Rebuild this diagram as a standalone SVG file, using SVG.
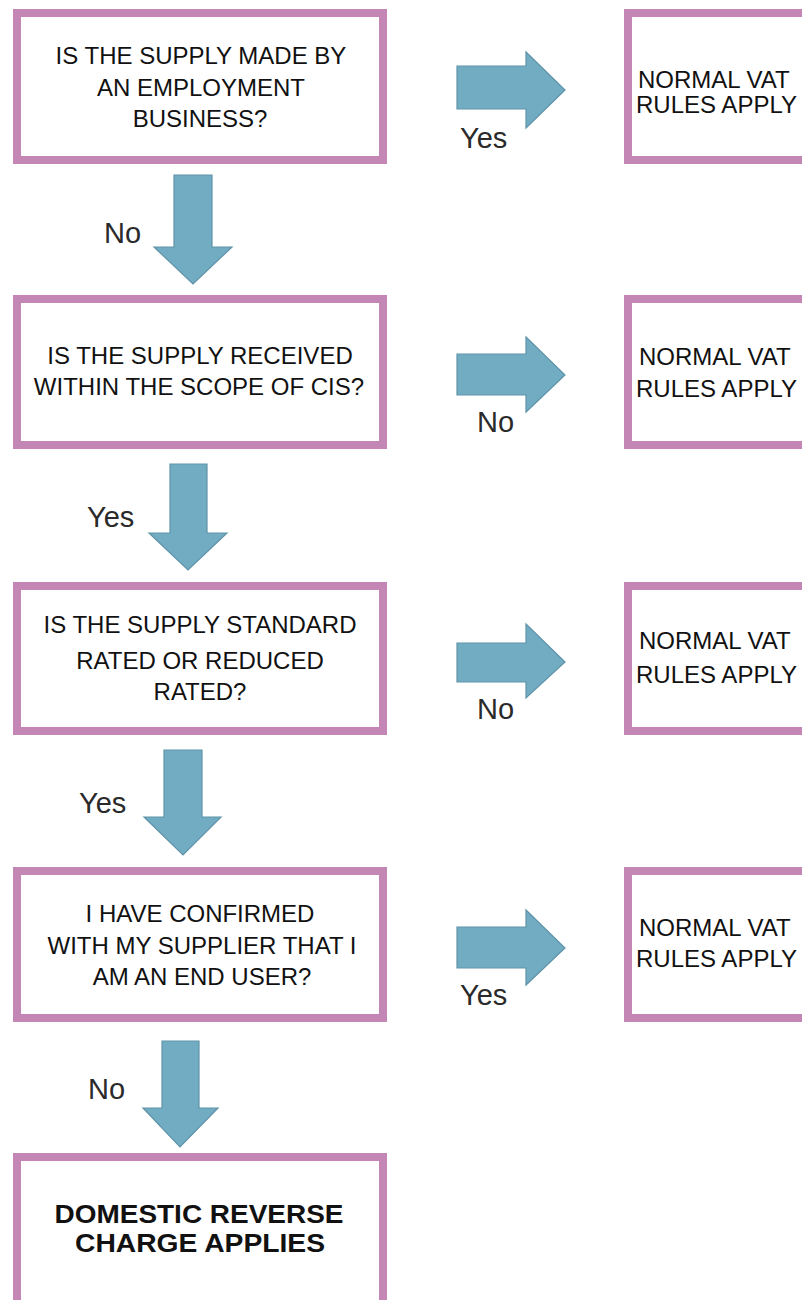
<svg xmlns="http://www.w3.org/2000/svg" width="802" height="1300" viewBox="0 0 802 1300">
<style>
.box{fill:#ffffff;stroke:#c487b5;stroke-width:8}
.arrow{fill:#72acc2;stroke:#5f93a8;stroke-width:1.2}
.t{font-family:"Liberation Sans",Arial,sans-serif;font-size:24px;fill:#111;text-anchor:middle}
.tr{font-family:"Liberation Sans",Arial,sans-serif;font-size:24px;fill:#111}
.tb{font-family:"Liberation Sans",Arial,sans-serif;font-size:25px;font-weight:bold;fill:#111;text-anchor:middle}
.lbl{font-family:"Liberation Sans",Arial,sans-serif;font-size:29px;fill:#2a2a2a}
</style>
<rect width="802" height="1300" fill="#ffffff"/>
<g id="q1">
<rect class="box" x="17" y="13" width="366" height="147"/>
<text class="t" x="201" y="64">IS THE SUPPLY MADE BY</text>
<text class="t" x="201" y="96">AN EMPLOYMENT</text>
<text class="t" x="200" y="127">BUSINESS?</text>
</g>
<g id="r1">
<rect class="box" x="628" y="13" width="200" height="147"/>
<text class="tr" x="638" y="88">NORMAL VAT</text>
<text class="tr" x="636" y="113">RULES APPLY</text>
</g>
<g id="q2">
<rect class="box" x="17" y="299" width="366" height="146"/>
<text class="t" x="200" y="364">IS THE SUPPLY RECEIVED</text>
<text class="t" x="199" y="395">WITHIN THE SCOPE OF CIS?</text>
</g>
<g id="r2">
<rect class="box" x="628" y="299" width="200" height="146"/>
<text class="tr" x="639" y="365">NORMAL VAT</text>
<text class="tr" x="636" y="397">RULES APPLY</text>
</g>
<g id="q3">
<rect class="box" x="17" y="586" width="366" height="145"/>
<text class="t" x="200" y="633">IS THE SUPPLY STANDARD</text>
<text class="t" x="200" y="669">RATED OR REDUCED</text>
<text class="t" x="200" y="700">RATED?</text>
</g>
<g id="r3">
<rect class="box" x="628" y="586" width="200" height="145"/>
<text class="tr" x="639" y="649">NORMAL VAT</text>
<text class="tr" x="636" y="683">RULES APPLY</text>
</g>
<g id="q4">
<rect class="box" x="17" y="871" width="366" height="147"/>
<text class="t" x="200" y="922">I HAVE CONFIRMED</text>
<text class="t" x="202" y="954">WITH MY SUPPLIER THAT I</text>
<text class="t" x="202" y="985">AM AN END USER?</text>
</g>
<g id="r4">
<rect class="box" x="628" y="871" width="200" height="147"/>
<text class="tr" x="639" y="936">NORMAL VAT</text>
<text class="tr" x="636" y="967">RULES APPLY</text>
</g>
<g id="result">
<rect class="box" x="17" y="1157" width="366" height="200"/>
<text class="tb" x="199" y="1223" textLength="289" lengthAdjust="spacingAndGlyphs">DOMESTIC REVERSE</text>
<text class="tb" x="200" y="1252" textLength="250" lengthAdjust="spacingAndGlyphs">CHARGE APPLIES</text>
</g>
<g id="connectors">
<polygon class="arrow" points="174,175 212,175 212,247 232,247 193,284 154,247 174,247"/>
<polygon class="arrow" points="170,464 207,464 207,533 227,533 188,570 149,533 170,533"/>
<polygon class="arrow" points="164,750 202,750 202,817 221,817 183,855 144,817 164,817"/>
<polygon class="arrow" points="162,1041 199,1041 199,1108 218,1108 180,1147 143,1108 162,1108"/>
<polygon class="arrow" points="457,66 526,66 526,52 565,90 526,128 526,109 457,109"/>
<polygon class="arrow" points="457,354 526,354 526,337 565,375 526,412 526,395 457,395"/>
<polygon class="arrow" points="457,643 526,643 526,624 565,662 526,698 526,682 457,682"/>
<polygon class="arrow" points="457,927 526,927 526,910 565,948 526,985 526,968 457,968"/>
<text class="lbl" x="104" y="243">No</text>
<text class="lbl" x="87" y="527">Yes</text>
<text class="lbl" x="79" y="813">Yes</text>
<text class="lbl" x="88" y="1099">No</text>
<text class="lbl" x="460" y="148">Yes</text>
<text class="lbl" x="477" y="432">No</text>
<text class="lbl" x="477" y="719">No</text>
<text class="lbl" x="460" y="1005">Yes</text>
</g>
</svg>
